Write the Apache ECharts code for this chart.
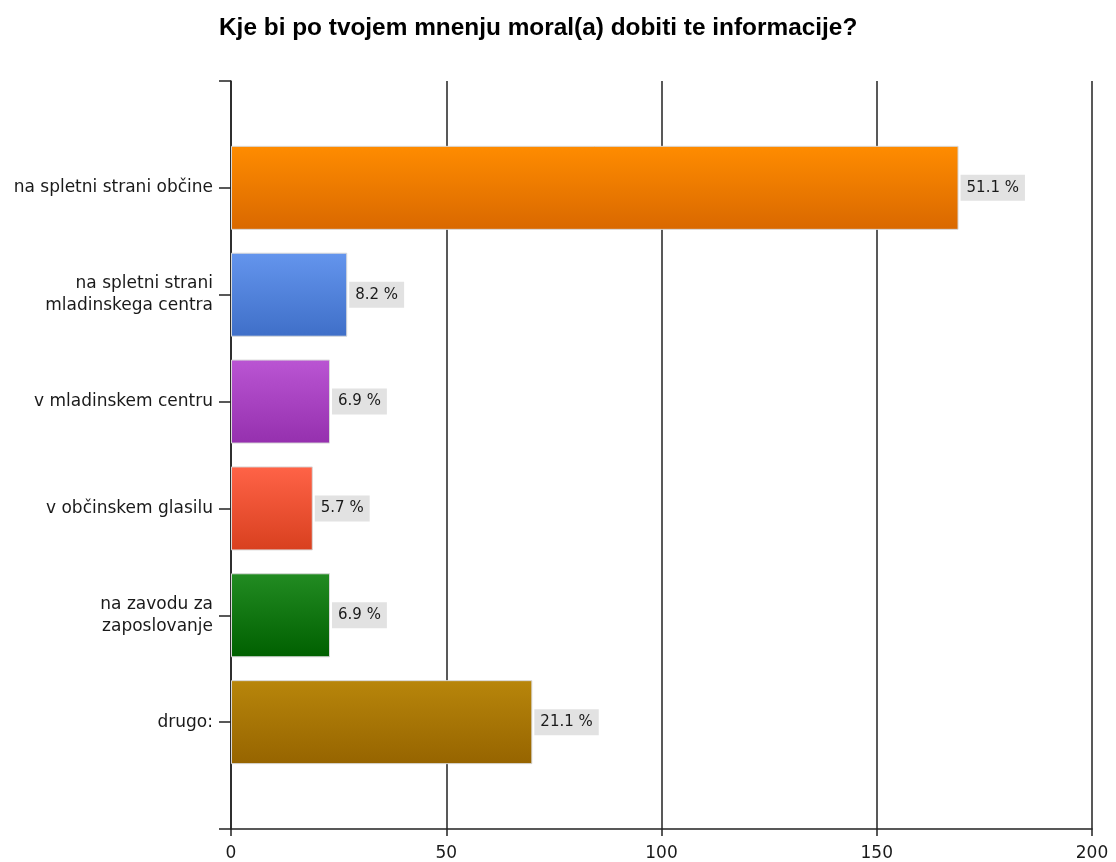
<!DOCTYPE html>
<html>
<head>
<meta charset="utf-8">
<script src="https://cdn.jsdelivr.net/npm/echarts@6/dist/echarts.min.js"></script>
<style>html,body{margin:0;padding:0;background:#fff}#c{width:1116px;height:862px}</style>
</head>
<body>
<div id="c"></div>
<script>
var titleText = 'Kje bi po tvojem mnenju moral(a) dobiti te informacije?';
var categories = ['na spletni strani občine', 'na spletni strani\nmladinskega centra', 'v mladinskem centru', 'v občinskem glasilu', 'na zavodu za\nzaposlovanje', 'drugo:'];
var counts = [169, 27, 23, 19, 23, 70];
var percentLabels = ['51.1', '8.2', '6.9', '5.7', '6.9', '21.1'];
var xTicks = { min: 0, max: 200, interval: 50 };
var colorTop = ['#FF8C00', '#6495ED', '#BA55D3', '#FF6347', '#228B22', '#B8860B'];
var colorBottom = ['#D96800', '#3F6FC8', '#9530AE', '#D8401F', '#006000', '#966400'];

var yCats = [''].concat(categories).concat(['']);
var seriesData = [null];
counts.forEach(function (v, i) {
  seriesData.push({
    value: v,
    itemStyle: {
      color: new echarts.graphic.LinearGradient(0, 0, 0, 1, [
        { offset: 0, color: colorTop[i] },
        { offset: 1, color: colorBottom[i] }
      ])
    }
  });
});
seriesData.push(null);

var font = 'DejaVu Sans';
var lineCol = '#222';
var chart = echarts.init(document.getElementById('c'));
chart.setOption({
  animation: false,
  backgroundColor: '#fff',
  title: {
    text: titleText,
    left: 214, top: 11,
    textStyle: { fontFamily: 'Liberation Sans', fontWeight: 'bold', fontSize: 24.4, color: '#000' }
  },
  grid: { left: 231, right: 24, top: 81, bottom: 33, containLabel: false },
  xAxis: {
    type: 'value', min: xTicks.min, max: xTicks.max, interval: xTicks.interval,
    axisLine: { show: true, lineStyle: { color: lineCol, width: 1.5 } },
    axisTick: { show: true, length: 7, lineStyle: { color: lineCol, width: 1.5 } },
    axisLabel: { fontFamily: font, fontSize: 17, color: '#1a1a1a', margin: 16 },
    splitLine: { show: true, lineStyle: { color: lineCol, width: 1.5 } }
  },
  yAxis: {
    type: 'category', data: yCats, inverse: true, boundaryGap: false,
    axisLine: { show: true, lineStyle: { color: lineCol, width: 1.5 } },
    axisTick: { show: true, length: 12, alignWithLabel: true, lineStyle: { color: lineCol, width: 1.5 } },
    axisLabel: { fontFamily: font, fontSize: 17, color: '#1a1a1a', margin: 18, lineHeight: 22, align: 'right', interval: 0 },
    splitLine: { show: false }
  },
  series: [{
    type: 'bar',
    data: seriesData,
    barWidth: 84,
    itemStyle: { borderColor: '#d9d9d9', borderWidth: 1 },
    label: {
      show: true, position: 'right', distance: 2,
      fontFamily: font, fontSize: 15, color: '#1a1a1a',
      backgroundColor: '#e2e2e2', padding: [6, 6, 5, 6],
      formatter: function (p) { return percentLabels[p.dataIndex - 1] + ' %'; }
    }
  }]
});
</script>
</body>
</html>
